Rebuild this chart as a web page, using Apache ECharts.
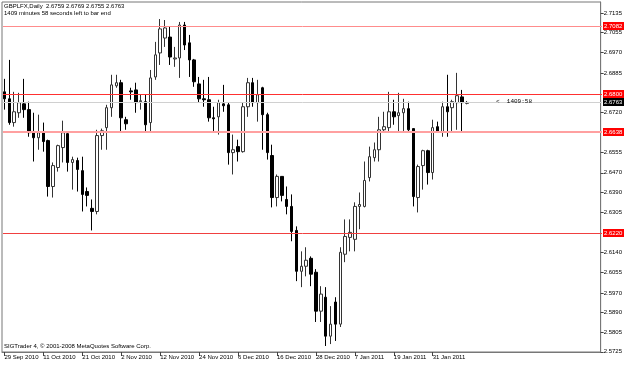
<!DOCTYPE html>
<html>
<head>
<meta charset="utf-8">
<script src="https://cdn.jsdelivr.net/npm/echarts@6/dist/echarts.min.js"></script>
<style>
  html, body { margin: 0; padding: 0; background: #fff; }
  #chart { width: 625px; height: 365px; }
</style>
</head>
<body>
<div id="chart"></div>
<script>
// daily bars, GBP cross
var dates = [
  '29 Sep 2010', '30 Sep 2010',
  '1 Oct 2010', '4 Oct 2010', '5 Oct 2010', '6 Oct 2010', '7 Oct 2010', '8 Oct 2010',
  '11 Oct 2010', '12 Oct 2010', '13 Oct 2010', '14 Oct 2010', '15 Oct 2010',
  '18 Oct 2010', '19 Oct 2010', '20 Oct 2010', '21 Oct 2010', '22 Oct 2010',
  '25 Oct 2010', '26 Oct 2010', '27 Oct 2010', '28 Oct 2010', '29 Oct 2010',
  '1 Nov 2010', '2 Nov 2010', '3 Nov 2010', '4 Nov 2010', '5 Nov 2010',
  '8 Nov 2010', '9 Nov 2010', '10 Nov 2010', '11 Nov 2010', '12 Nov 2010',
  '15 Nov 2010', '16 Nov 2010', '17 Nov 2010', '18 Nov 2010', '19 Nov 2010',
  '22 Nov 2010', '23 Nov 2010', '24 Nov 2010', '25 Nov 2010', '26 Nov 2010',
  '29 Nov 2010', '30 Nov 2010', '1 Dec 2010', '2 Dec 2010', '3 Dec 2010',
  '6 Dec 2010', '7 Dec 2010', '8 Dec 2010', '9 Dec 2010', '10 Dec 2010',
  '13 Dec 2010', '14 Dec 2010', '15 Dec 2010', '16 Dec 2010', '17 Dec 2010',
  '20 Dec 2010', '21 Dec 2010', '22 Dec 2010', '23 Dec 2010', '24 Dec 2010',
  '27 Dec 2010', '28 Dec 2010', '29 Dec 2010', '30 Dec 2010', '31 Dec 2010',
  '3 Jan 2011', '4 Jan 2011', '5 Jan 2011', '6 Jan 2011', '7 Jan 2011',
  '10 Jan 2011', '11 Jan 2011', '12 Jan 2011', '13 Jan 2011', '14 Jan 2011',
  '17 Jan 2011', '18 Jan 2011', '19 Jan 2011', '20 Jan 2011', '21 Jan 2011',
  '24 Jan 2011', '25 Jan 2011', '26 Jan 2011', '27 Jan 2011', '28 Jan 2011',
  '31 Jan 2011', '1 Feb 2011', '2 Feb 2011', '3 Feb 2011', '4 Feb 2011',
  '7 Feb 2011', '8 Feb 2011', '9 Feb 2011'
];
var opens = [
  2.6807, 2.6778, 2.6679, 2.6720, 2.6757, 2.6733, 2.6637, 2.6616, 2.6637, 2.6604,
  2.6413, 2.6492, 2.6575, 2.6633, 2.6513, 2.6521, 2.6479, 2.6392, 2.6322, 2.6309,
  2.6625, 2.6658, 2.6741, 2.6832, 2.6845, 2.6691, 2.6811, 2.6815, 2.6766, 2.6766,
  2.6679, 2.6869, 2.6969, 2.7031, 2.7035, 2.6944, 2.6948, 2.7085, 2.7011, 2.6940,
  2.6840, 2.6778, 2.6774, 2.6699, 2.6703, 2.6757, 2.6753, 2.6554, 2.6579, 2.6558,
  2.6745, 2.6845, 2.6762, 2.6824, 2.6712, 2.6542, 2.6367, 2.6455, 2.6359, 2.6330,
  2.6230, 2.6060, 2.6081, 2.6114, 2.6056, 2.5894, 2.5952, 2.5790, 2.5932, 2.5840,
  2.6131, 2.6201, 2.6193, 2.6330, 2.6330, 2.6450, 2.6533, 2.6566, 2.6649, 2.6658,
  2.6724, 2.6708, 2.6720, 2.6737, 2.6654, 2.6367, 2.6500, 2.6562, 2.6471, 2.6662,
  2.6641, 2.6745, 2.6741, 2.6762, 2.6786, 2.6759
];
var closes = [
  2.6778, 2.6679, 2.6724, 2.6762, 2.6733, 2.6637, 2.6616, 2.6637, 2.6600, 2.6413,
  2.6500, 2.6583, 2.6637, 2.6513, 2.6525, 2.6484, 2.6380, 2.6376, 2.6309, 2.6625,
  2.6645, 2.6741, 2.6836, 2.6845, 2.6699, 2.6674, 2.6807, 2.6762, 2.6770, 2.6670,
  2.6865, 2.6961, 2.7069, 2.7073, 2.6952, 2.6948, 2.7085, 2.7002, 2.6940, 2.6849,
  2.6778, 2.6774, 2.6699, 2.6695, 2.6762, 2.6749, 2.6554, 2.6566, 2.6558, 2.6745,
  2.6845, 2.6762, 2.6795, 2.6712, 2.6554, 2.6367, 2.6455, 2.6376, 2.6330, 2.6226,
  2.6060, 2.6081, 2.6106, 2.6048, 2.5894, 2.5965, 2.5790, 2.5840, 2.5840, 2.6139,
  2.6205, 2.6222, 2.6330, 2.6338, 2.6438, 2.6537, 2.6566, 2.6649, 2.6662, 2.6724,
  2.6703, 2.6720, 2.6737, 2.6649, 2.6371, 2.6496, 2.6562, 2.6471, 2.6658, 2.6641,
  2.6745, 2.6724, 2.6766, 2.6791, 2.6762, 2.6763
];
var lows = [
  2.6733, 2.6670, 2.6662, 2.6699, 2.6699, 2.6620, 2.6517, 2.6566, 2.6558, 2.6371,
  2.6367, 2.6475, 2.6513, 2.6475, 2.6400, 2.6392, 2.6309, 2.6330, 2.6230, 2.6297,
  2.6566, 2.6566, 2.6703, 2.6824, 2.6641, 2.6649, 2.6774, 2.6720, 2.6733, 2.6637,
  2.6641, 2.6857, 2.6919, 2.6994, 2.6919, 2.6911, 2.6865, 2.6981, 2.6869, 2.6828,
  2.6762, 2.6745, 2.6683, 2.6641, 2.6629, 2.6724, 2.6504, 2.6463, 2.6517, 2.6554,
  2.6703, 2.6745, 2.6683, 2.6566, 2.6525, 2.6326, 2.6330, 2.6351, 2.6297, 2.6185,
  2.6019, 2.5994, 2.6039, 2.5998, 2.5849, 2.5849, 2.5749, 2.5757, 2.5770, 2.5828,
  2.6098, 2.6143, 2.6143, 2.6235, 2.6326, 2.6434, 2.6517, 2.6517, 2.6637, 2.6637,
  2.6670, 2.6641, 2.6641, 2.6637, 2.6330, 2.6305, 2.6400, 2.6421, 2.6442, 2.6637,
  2.6620, 2.6620, 2.6641, 2.6649, 2.6641, 2.6755
];
var highs = [
  2.6861, 2.6940, 2.6807, 2.6803, 2.6861, 2.6766, 2.6720, 2.6712, 2.6679, 2.6608,
  2.6513, 2.6587, 2.6687, 2.6637, 2.6537, 2.6533, 2.6537, 2.6409, 2.6359, 2.6649,
  2.6654, 2.6753, 2.6878, 2.6878, 2.6857, 2.6703, 2.6824, 2.6845, 2.6795, 2.6795,
  2.6898, 2.7015, 2.7110, 2.7106, 2.7077, 2.6994, 2.7098, 2.7098, 2.7044, 2.6944,
  2.6869, 2.6857, 2.6869, 2.6745, 2.6774, 2.6836, 2.6762, 2.6629, 2.6608, 2.6762,
  2.6865, 2.6865, 2.6857, 2.6828, 2.6720, 2.6587, 2.6463, 2.6455, 2.6413, 2.6380,
  2.6247, 2.6143, 2.6160, 2.6122, 2.6069, 2.5998, 2.5994, 2.5915, 2.5952, 2.6160,
  2.6276, 2.6276, 2.6347, 2.6388, 2.6517, 2.6579, 2.6596, 2.6703, 2.6724, 2.6807,
  2.6774, 2.6803, 2.6778, 2.6766, 2.6654, 2.6504, 2.6566, 2.6566, 2.6691, 2.6683,
  2.6766, 2.6878, 2.6774, 2.6886, 2.6815, 2.6769
];
// price scale labels shown at the right
var priceTicks = [2.7135, 2.7055, 2.6970, 2.6885, 2.6720, 2.6555, 2.6470, 2.6390,
  2.6305, 2.6140, 2.6055, 2.5970, 2.5890, 2.5805, 2.5725];
// horizontal lines drawn on the chart
var levelLines = [2.7082, 2.6800, 2.6638, 2.6220];
var levelColors = ['#ff8c8c', '#ff3030', '#ffa0a0', '#f04040'];
var levelWidths = [1, 1, 2, 1];
var bidPrice = 2.6763;
var emptyBars = 27; // chart shift on the right

var categories = dates.slice();
for (var k = 0; k < emptyBars; k++) categories.push('');

var candles = [];
for (var i = 0; i < dates.length; i++) {
  candles.push([opens[i], closes[i], lows[i], highs[i]]);
}

var showDate = function (index, value) {
  return index % 8 === 0 && value !== '';
};

var gridLeft = 2, gridRight = 23;
var chart = echarts.init(document.getElementById('chart'));
var option = {
  animation: false,
  backgroundColor: '#fff',
  grid: {
    left: gridLeft, right: gridRight, top: 2, bottom: 13,
    show: true, borderColor: '#777', borderWidth: 1
  },
  xAxis: {
    type: 'category',
    data: categories,
    boundaryGap: true,
    axisLine: { onZero: false, lineStyle: { color: '#777' } },
    axisTick: { show: true, interval: showDate, alignWithLabel: true, length: 4, lineStyle: { color: '#444' } },
    axisLabel: {
      interval: showDate, align: 'left', margin: 2,
      fontSize: 6, fontFamily: 'Liberation Sans', color: '#000'
    },
    splitLine: { show: false }
  },
  yAxis: {
    type: 'value',
    position: 'right',
    min: 2.5724,
    max: 2.7181,
    axisLine: { show: true, onZero: false, lineStyle: { color: '#777' } },
    axisTick: { show: true, length: 3, customValues: priceTicks, lineStyle: { color: '#444' } },
    axisLabel: {
      customValues: priceTicks, margin: 3,
      fontSize: 6, fontFamily: 'Liberation Sans', color: '#000',
      formatter: function (v) { return v.toFixed(4); }
    },
    splitLine: { show: false }
  },
  series: [{
    type: 'candlestick',
    data: candles,
    barWidth: 3,
    z: 3,
    itemStyle: {
      color: '#fff', color0: '#000',
      borderColor: '#333', borderColor0: '#000', borderWidth: 1
    }
  }]
};
chart.setOption(option);

// horizontal levels: y comes from the value axis of the chart
var graphics = [];
var addLevel = function (value, color, width, labelBg) {
  var y = Math.round(chart.convertToPixel({ yAxisIndex: 0 }, value)) + (width % 2 ? 0.5 : 0);
  graphics.push({
    type: 'line', z: 20, silent: true,
    shape: { x1: gridLeft + 1, y1: y, x2: 625 - gridRight, y2: y },
    style: { stroke: color, lineWidth: width }
  });
  graphics.push({
    type: 'rect', z: 21, silent: true,
    shape: { x: 625 - gridRight + 1, y: Math.floor(y) - 4, width: 21, height: 8 },
    style: { fill: labelBg }
  });
  graphics.push({
    type: 'text', z: 22, silent: true,
    x: 625 - gridRight + 2, y: Math.floor(y) - 3,
    style: { text: value.toFixed(4), fill: '#fff', fontSize: 6, fontFamily: 'Liberation Sans' }
  });
};
addLevel(bidPrice, '#d0d0d0', 1, '#000');
for (var j = 0; j < levelLines.length; j++) {
  addLevel(levelLines[j], levelColors[j], levelWidths[j], '#ff0000');
}
graphics.push(
  { type: 'text', left: 4, top: 3,
    style: { text: 'GBPLFX,Daily  2.6759 2.6769 2.6755 2.6763', fill: '#000', fontSize: 6, fontFamily: 'Liberation Sans' } },
  { type: 'text', left: 4, top: 10,
    style: { text: '1409 minutes 58 seconds left to bar end', fill: '#000', fontSize: 6, fontFamily: 'Liberation Sans' } },
  { type: 'text', left: 4, top: 343,
    style: { text: 'SIGTrader 4, \u00a9 2001-2008 MetaQuotes Software Corp.', fill: '#000', fontSize: 6, fontFamily: 'Liberation Sans' } },
  { type: 'text', left: 496, top: 98, z: 23,
    style: { text: '<  1409:58', fill: '#000', fontSize: 6, fontFamily: 'Liberation Mono' } }
);
chart.setOption({ graphic: graphics });
</script>
</body>
</html>
